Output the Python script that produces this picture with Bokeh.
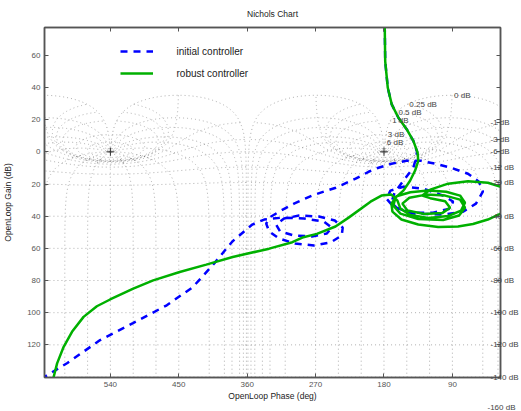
import numpy as np
from bokeh.plotting import figure
from bokeh.models import (Range1d, FixedTicker, LinearAxis, Label, Legend,
                          LegendItem, Title)
from bokeh.embed import file_html
from bokeh.resources import INLINE

# ---- axis ticks ----
x_ticks = [540, 450, 360, 270, 180, 90]
y_ticks = [-120, -100, -80, -60, -40, -20, 0, 20, 40, 60]

# ---- Nichols grid: closed-loop gains (dB) and closed-loop phases (deg) ----
cl_gains_db = [6, 3, 1, 0.5, 0.25, 0, -1, -3, -6, -12, -20, -40, -60, -80,
               -100, -120, -140, -160]
cl_phases_deg = [1, 5, 10, 20, 30, 50, 90, 120, 150, 180,
                 -1, -5, -10, -20, -30, -50, -90, -120, -150]
grid_shifts = [0, -360]
critical_phase = [180, 540]
critical_gain = [0, 0]

# ---- open-loop responses (phase shown as |deg|, gain dB) ----
init_phase = [179.5, 178.4, 175.0, 169.8, 161.0, 150.2, 141.4, 136.5, 138.5, 141.4,
              154.5, 166.2, 170.2, 161.0, 141.4, 115.3, 93.0, 89.1, 102.2, 128.3,
              154.5, 171.5, 176.7, 167.5, 141.4, 102.2, 76.0, 59.0, 49.9, 55.1,
              69.5, 91.7, 112.6, 130.9, 150.6, 170.2, 187.2, 200.3, 217.3, 243.4,
              274.8, 298.4, 315.4, 328.5, 335.0, 331.1, 318.0, 297.1, 272.2, 250.0,
              235.6, 234.3, 244.7, 265.7, 291.8, 311.5, 321.9, 316.7, 298.4, 274.8,
              255.2, 248.7, 259.2, 285.4, 314.0, 337.6, 353.3, 370.3, 379.5, 405.6,
              431.8, 465.8, 510.3, 553.5, 596.6, 626.7, 635.0]
init_gain = [95.0, 56.3, 39.8, 29.5, 21.2, 14.1, 6.8, 0.0, -5.0, -9.9,
             -18.0, -25.4, -31.6, -35.9, -37.8, -37.8, -35.3, -30.9, -27.2, -22.9,
             -21.7, -24.1, -29.1, -34.1, -38.4, -39.0, -37.2, -32.2, -24.8, -18.6,
             -13.6, -9.9, -7.4, -5.6, -5.6, -7.4, -9.9, -12.4, -16.7, -22.3,
             -27.2, -32.2, -36.5, -40.2, -44.6, -49.5, -53.9, -57.0, -58.2, -56.3,
             -52.0, -47.1, -42.7, -40.2, -39.6, -41.5, -45.2, -49.5, -52.0, -52.6,
             -50.8, -47.1, -43.3, -41.5, -40.9, -42.1, -45.2, -52.0, -55.7, -70.6,
             -84.2, -95.4, -106.5, -117.0, -131.3, -139.9, -146.0]

robust_phase = [179.5, 178.4, 175.0, 169.8, 161.0, 150.2, 141.4, 135.8, 134.9, 139.2,
                145.7, 154.5, 164.9, 167.6, 158.4, 134.9, 102.1, 81.2, 73.4, 79.9,
                99.5, 124.4, 146.6, 155.8, 149.2, 127.0, 103.5, 93.0, 99.5, 119.2,
                129.6, 119.2, 95.6, 69.5, 43.3, 26.4, 14.6, 12.0, 17.2, 26.4,
                43.3, 62.9, 82.6, 108.7, 134.9, 157.1, 168.9, 170.2, 163.6, 145.3,
                121.8, 98.2, 79.9, 73.4, 78.6, 95.6, 121.8, 145.3, 158.4, 162.3,
                170.2, 183.3, 197.7, 226.5, 243.8, 268.3, 287.4, 300.6, 331.1, 344.2,
                379.1, 413.9, 448.8, 483.7, 509.9, 540.4, 557.8, 575.3, 590.5, 601.5,
                610.1, 614.6, 615.6]
robust_gain = [95.0, 56.3, 39.8, 29.5, 21.2, 14.1, 6.8, -0.4, -5.6, -11.8,
               -18.0, -24.1, -28.5, -33.4, -38.4, -41.8, -42.4, -39.6, -34.7, -29.7,
               -27.2, -26.6, -28.5, -32.2, -36.5, -38.7, -38.1, -34.7, -30.7, -28.8,
               -27.2, -23.5, -19.8, -18.3, -19.2, -21.7, -26.0, -31.0, -35.9, -38.4,
               -42.1, -44.9, -46.4, -46.7, -45.2, -42.1, -37.2, -32.2, -27.6, -25.1,
               -24.1, -24.8, -27.2, -31.6, -36.5, -39.9, -41.2, -39.3, -35.3, -30.3,
               -26.6, -27.2, -31.0, -40.9, -46.4, -51.0, -53.3, -56.2, -60.2, -61.6,
               -65.4, -70.1, -74.7, -79.9, -85.0, -91.8, -96.0, -102.6, -111.9, -121.2,
               -131.5, -139.8, -146.0]

FONT = "Liberation Sans"
GRID_COLOR = "#9a9a9a"
FRAME_COLOR = "#555555"

p = figure(width=521, height=411, output_backend="svg", toolbar_location=None,
           x_range=Range1d(626.7, 26.7), y_range=Range1d(-140.3, 77.3),
           min_border_left=44, min_border_right=18, min_border_top=27,
           min_border_bottom=34)
p.xgrid.visible = False
p.ygrid.visible = False
p.background_fill_color = "white"
p.border_fill_color = "white"
p.outline_line_color = FRAME_COLOR
p.outline_line_width = 1.5

# ---- Nichols grid lines (closed-loop iso-gain / iso-phase contours) ----
th_half = np.geomspace(1.0, 180.0, 350)
theta = np.concatenate([-th_half, -(360.0 - th_half[::-1][1:])])
th_rad = np.radians(theta)
m_db = np.concatenate([np.linspace(-220, -20, 80), np.linspace(-20, -3, 200),
                       np.linspace(-3, 3, 900), np.linspace(3, 20, 200),
                       np.linspace(20, 80, 60)])

xs, ys = [], []
m_label_pts = []
for gdb in cl_gains_db:
    M = 10 ** (gdb / 20.0)
    T = M * np.exp(1j * th_rad)
    G = T / (1 - T)
    ph = np.degrees(np.unwrap(np.angle(G)))
    i = int(np.argmin(np.abs(theta + 180)))
    ph = ph + 360 * np.round((-180 - ph[i]) / 360)
    gn = 20 * np.log10(np.abs(G))
    m_label_pts.append((gdb, ph[0], gn[0]))
    for s in grid_shifts:
        xs.append(list(-(ph + s)))
        ys.append(list(gn))

mlin = 10 ** (m_db / 20.0)
for nd in cl_phases_deg:
    T = mlin * np.exp(1j * np.radians(nd))
    G = T / (1 - T)
    ph = np.degrees(np.unwrap(np.angle(G)))
    ph = ph - 360 * np.ceil(ph[0] / 360 - 1e-9)
    gn = 20 * np.log10(np.abs(G))
    for s in grid_shifts:
        xs.append(list(-(ph + s)))
        ys.append(list(gn))

p.multi_line(xs, ys, line_color=GRID_COLOR, line_width=0.8, line_dash="1 3")

# labels of the closed-loop gain contours
neg_ticks, neg_over = [], {}
for gdb, ph0, g0 in m_label_pts:
    txt = "%g dB" % gdb
    if gdb >= 0:
        p.add_layout(Label(x=-ph0, y=g0, text=txt, x_offset=2, text_align="left",
                           text_baseline="middle", text_font=FONT,
                           text_font_size="8px", text_color="#444444"))
    elif g0 > -140.3:
        v = round(float(g0), 3)
        neg_ticks.append(v)
        neg_over[v] = txt

# critical points
p.scatter(critical_phase, critical_gain, marker="cross", size=8,
          line_color="#333333", line_width=1)

# ---- data curves ----
r_blue = p.line(init_phase, init_gain, line_color="#0000ff", line_width=2.5,
                line_dash="7 6")
r_green = p.line(robust_phase, robust_gain, line_color="#00b000", line_width=2.5)

# ---- axes ----
def style_axis(ax):
    ax.major_tick_in = 4
    ax.major_tick_out = 0
    ax.minor_tick_line_color = None
    ax.axis_line_color = FRAME_COLOR
    ax.axis_line_width = 1.5
    ax.major_tick_line_color = FRAME_COLOR
    ax.major_label_text_font = FONT
    ax.major_label_text_font_size = "8px"
    ax.major_label_text_color = "#555555"
    ax.major_label_standoff = 4
    ax.axis_label_text_font = FONT
    ax.axis_label_text_font_size = "8.5px"
    ax.axis_label_text_font_style = "normal"
    ax.axis_label_text_color = "#222222"

xa = p.xaxis[0]
ya = p.yaxis[0]
style_axis(xa)
style_axis(ya)
xa.ticker = FixedTicker(ticks=x_ticks)
ya.ticker = FixedTicker(ticks=y_ticks)
ya.major_label_overrides = {t: str(abs(t)) for t in y_ticks}
xa.major_label_standoff = 4
xa.axis_label = "OpenLoop Phase (deg)"
xa.axis_label_standoff = 1
ya.axis_label = "OpenLoop Gain (dB)"
ya.axis_label_standoff = 11

top_ax = LinearAxis(ticker=FixedTicker(ticks=x_ticks))
style_axis(top_ax)
top_ax.major_label_text_font_size = "1px"
top_ax.major_label_standoff = 0
top_ax.major_label_overrides = {t: "" for t in x_ticks}
p.add_layout(top_ax, "above")

right_y = [t for t in y_ticks if all(abs(t - v) > 0.5 for v in neg_ticks)]
right_ax = LinearAxis(ticker=FixedTicker(ticks=right_y + neg_ticks))
style_axis(right_ax)
right_ax.major_label_text_color = "#444444"
right_ax.major_label_standoff = -10
over = {t: "" for t in right_y}
over.update(neg_over)
right_ax.major_label_overrides = over
p.add_layout(right_ax, "right")

# ---- title and the contour label that falls below the frame ----
p.title.text = "Nichols Chart"
p.title.align = "center"
p.title.text_font = FONT
p.title.text_font_size = "8.5px"
p.title.text_font_style = "normal"
p.title.text_color = "#222222"
p.title.vertical_align = "top"
p.title.standoff = 14

p.add_layout(Title(text="-160 dB", align="right", offset=-15, standoff=-5,
                   text_font=FONT, text_font_size="8px", text_font_style="normal",
                   text_color="#444444"), "below")

# ---- legend ----
legend = Legend(items=[LegendItem(label="initial controller", renderers=[r_blue]),
                       LegendItem(label="robust controller", renderers=[r_green])],
                location=(75.5, 297.7))
legend.border_line_color = None
legend.background_fill_alpha = 0
legend.padding = 0
legend.margin = 0
legend.spacing = 10
legend.glyph_width = 33
legend.glyph_height = 12
legend.label_height = 12
legend.label_standoff = 24
legend.label_text_font = FONT
legend.label_text_font_size = "10px"
legend.label_text_color = "#222222"
p.add_layout(legend)

open("out.html", "w").write(file_html(p, INLINE))
